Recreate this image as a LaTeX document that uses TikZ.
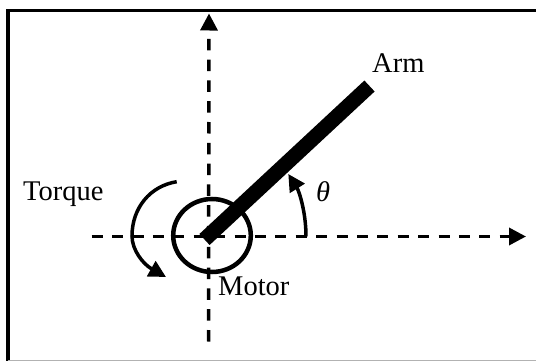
\documentclass[tikz,border=0pt]{standalone}
\usepackage{fontspec}
\setmainfont{Liberation Serif}
\usetikzlibrary{arrows.meta}
\begin{document}
\begin{tikzpicture}[x=1pt, y=-1pt, >={Triangle[length=17pt,width=17pt]}, font=\fontsize{28.5}{32}\selectfont]
		\useasboundingbox (0,0) rectangle (536,361);
		\tikzset{axisline/.style={line width=3.5pt}, thickline/.style={line width=3.5pt}, labeltext/.style={anchor=base west, inner sep=0pt}}
		\coordinate (O) at (209,236.5);
		\coordinate (Xtip) at (526,236.5);
		\coordinate (Ytip) at (209,13.5);
		\coordinate (Ybase) at (208.5,341.5);
		\coordinate (Xbase) at (91.7,236.5);
		% frame
		\draw[line width=3.5pt] (8,361) -- (8,10.3) -- (536,10.3);
		\draw[line width=1pt, black!30] (8,360.3) -- (536,360.3);
		% axes
		\draw[axisline, dash pattern=on 11pt off 9.4pt, ->] (Xbase) -- (Xtip);
		\draw[axisline, dash pattern=on 11.5pt off 9.3pt, ->] (Ybase) -- (Ytip);
		% motor and arm
		\draw[line width=4.5pt] (212,235.5) ellipse [x radius=38.8, y radius=36.5];
		\draw[line width=15pt] (204.5,239.5) -- (369.5,86);
		% angle and torque arrows
		\draw[thickline, ->] (306,236.5) .. controls (306,212) and (299,191) .. (288.3,174);
		\draw[thickline, ->] (176.7,181.7) .. controls (150,186) and (132,208) .. (132,236) .. controls (132,250) and (143,264) .. (166,277);
		\node[labeltext] (arm) at (372,73) {Arm};
		\node[labeltext] (torque) at (23,200.5) {Torque};
		\node[labeltext] (motor) at (218,295) {Motor};
		\node[labeltext] (angle) at (316,201.5) {\textit{θ}};
	\end{tikzpicture}
\end{document}
